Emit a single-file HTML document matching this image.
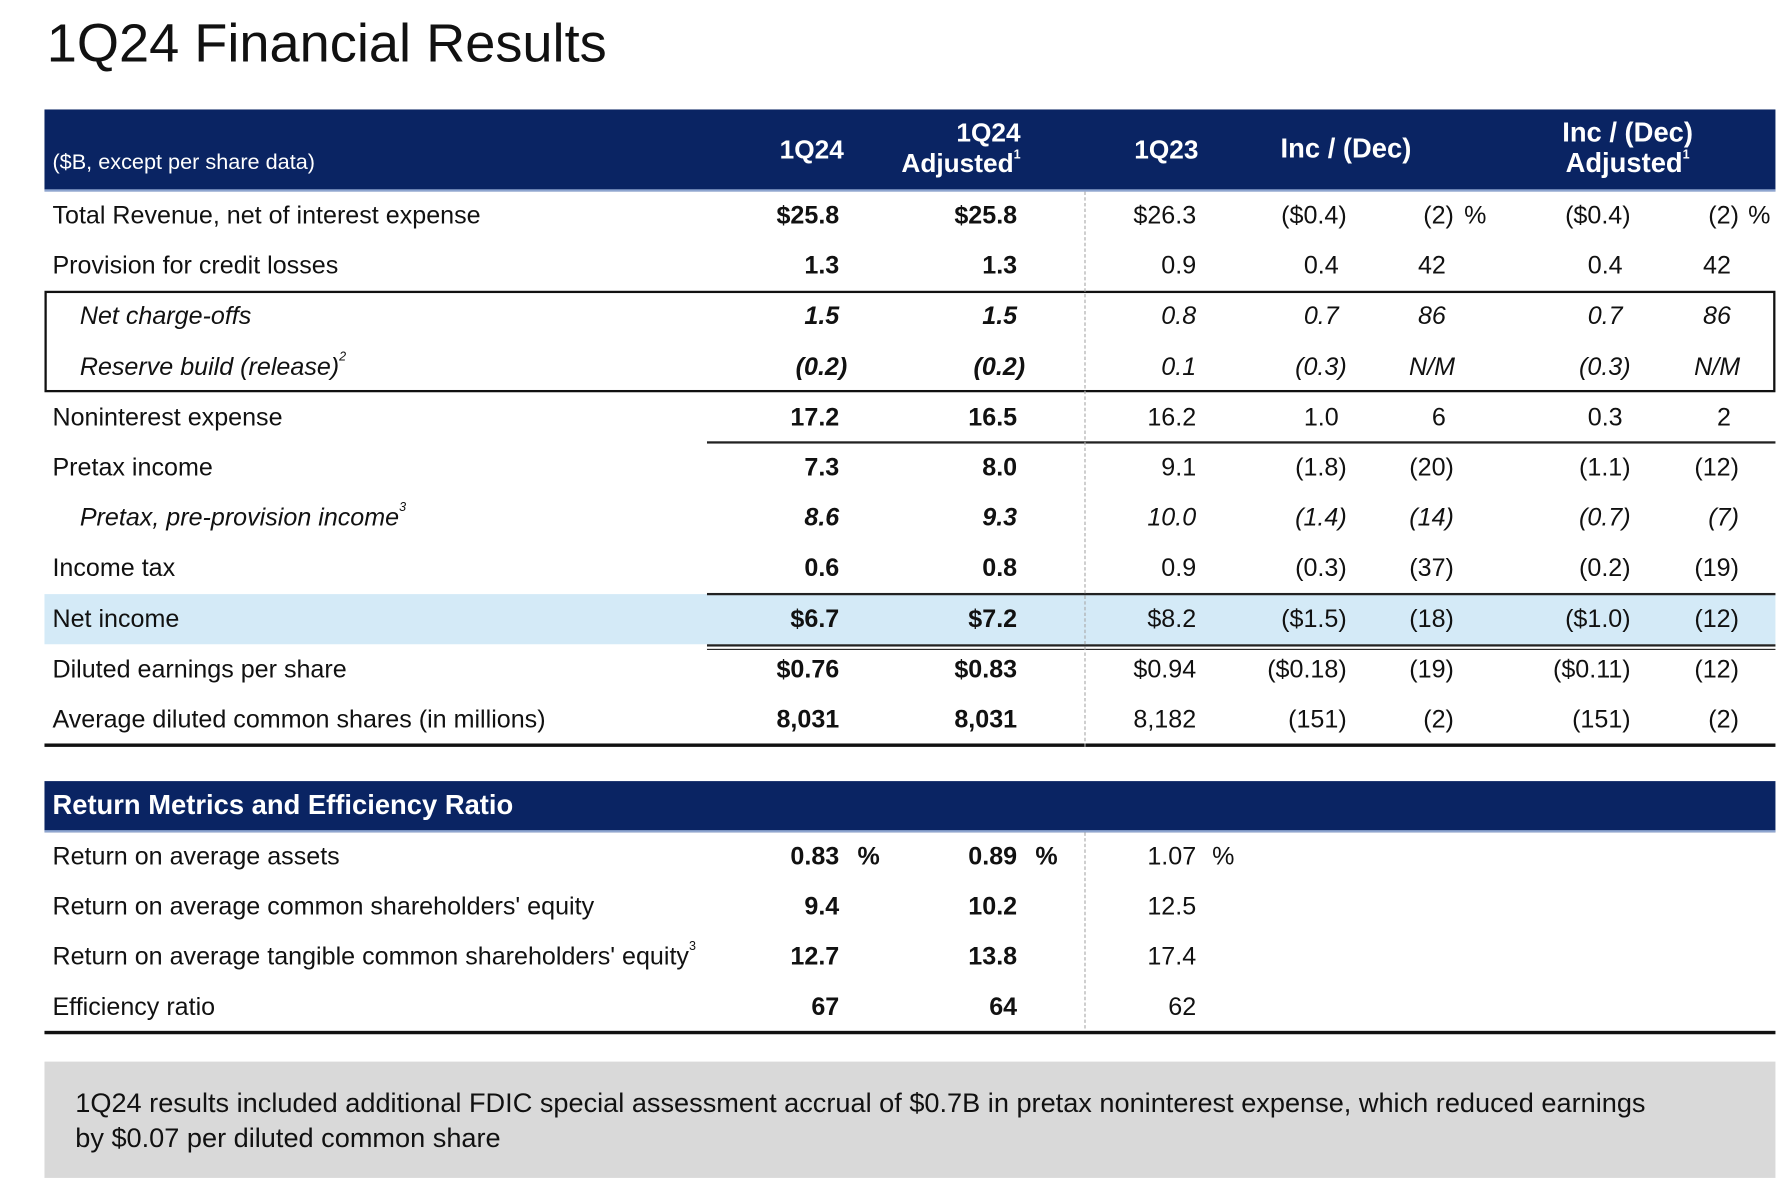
<!DOCTYPE html>
<html><head><meta charset="utf-8"><style>
html,body{margin:0;padding:0;background:#fff;}
body{width:1788px;height:1178px;overflow:hidden;position:relative;}
#wrap{position:absolute;left:0;top:0;width:1568px;height:1033px;transform:scale(1.1403);transform-origin:0 0;font-family:"Liberation Sans",sans-serif;color:#111;}
.t{position:absolute;white-space:nowrap;line-height:30px;height:30px;font-size:22px;}
.r{text-align:right;}
.b{font-weight:bold;}
.i{font-style:italic;}
.w{color:#fff;}
sup{font-size:11px;vertical-align:top;line-height:12px;}
.abs{position:absolute;}
</style></head><body>
<div id="wrap">
<div class="t" style="left:41px;top:11px;height:56px;line-height:56px;font-size:47.5px;">1Q24 Financial Results</div>
<div class="abs" style="left:39px;top:96px;width:1518px;height:72px;background:#0a2463;border-bottom:2px solid #8fa6d0;box-sizing:border-box;"></div>
<div class="t w" style="left:46px;top:128px;font-size:19px;">($B, except per share data)</div>
<div class="t w b r" style="right:828px;top:116px;font-size:23px;">1Q24</div>
<div class="t w b r" style="right:673px;top:103px;font-size:23px;line-height:27px;height:56px;">1Q24<br>Adjusted<sup>1</sup></div>
<div class="t w b r" style="right:517px;top:116px;font-size:23px;">1Q23</div>
<div class="t w b" style="left:1123px;top:116px;font-size:24px;">Inc / (Dec)</div>
<div class="t w b" style="left:1370px;top:103px;font-size:24px;line-height:27px;height:56px;text-align:center;">Inc / (Dec)<br>Adjusted<sup>1</sup></div>
<div class="abs" style="left:39px;top:521px;width:1518px;height:44px;background:#d4eaf7;"></div>
<div class="abs" style="left:39px;top:255px;width:1518px;height:89px;border:2px solid #111;box-sizing:border-box;"></div>
<div class="abs" style="left:620px;top:387px;width:937px;height:2px;background:#222;"></div>
<div class="abs" style="left:620px;top:520px;width:937px;height:2px;background:#222;"></div>
<div class="abs" style="left:620px;top:565px;width:937px;height:5px;border-top:2px solid #222;border-bottom:1.5px solid #222;box-sizing:border-box;"></div>
<div class="abs" style="left:39px;top:652px;width:1518px;height:3px;background:#111;"></div>
<div class="abs" style="left:951px;top:168px;width:0;height:487px;border-left:1.5px dashed #aaa;"></div>
<div class="abs" style="left:39px;top:685px;width:1518px;height:45px;background:#0a2463;border-bottom:2px solid #8fa6d0;box-sizing:border-box;"></div>
<div class="t w b" style="left:46px;top:692px;font-size:24px;">Return Metrics and Efficiency Ratio</div>
<div class="abs" style="left:951px;top:730px;width:0;height:172px;border-left:1.5px dashed #aaa;"></div>
<div class="abs" style="left:39px;top:904px;width:1518px;height:3px;background:#111;"></div>
<div class="abs" style="left:39px;top:931px;width:1518px;height:102px;background:#d9d9d9;"></div>
<div class="t" style="left:66px;top:952px;height:62px;line-height:31px;font-size:23.8px;">1Q24 results included additional FDIC special assessment accrual of $0.7B in pretax noninterest expense, which reduced earnings<br>by $0.07 per diluted common share</div>
</div>
<script>
const wrap = document.getElementById('wrap');
const colRight = [736, 892, 1049, 1174, 1268, 1423, 1518];
const rowLabels = ['Total Revenue, net of interest expense','Provision for credit losses','Net charge-offs','Reserve build (release)<sup>2</sup>','Noninterest expense','Pretax income','Pretax, pre-provision income<sup>3</sup>','Income tax','Net income','Diluted earnings per share','Average diluted common shares (in millions)'];
const rowNames = ['total-revenue','provision','net-charge-offs','reserve-build','noninterest-expense','pretax-income','pretax-pre-provision','income-tax','net-income','diluted-eps','avg-diluted-shares'];
const rowItalic = [0,0,1,1,0,0,1,0,0,0,0];
const rowY = [189,233,277,322,366,410,454,498,543,587,631];
const rowValues = [
 ['$25.8','$25.8','$26.3','($0.4)','(2)','($0.4)','(2)'],
 ['1.3','1.3','0.9','0.4','42','0.4','42'],
 ['1.5','1.5','0.8','0.7','86','0.7','86'],
 ['(0.2)','(0.2)','0.1','(0.3)','N/M','(0.3)','N/M'],
 ['17.2','16.5','16.2','1.0','6','0.3','2'],
 ['7.3','8.0','9.1','(1.8)','(20)','(1.1)','(12)'],
 ['8.6','9.3','10.0','(1.4)','(14)','(0.7)','(7)'],
 ['0.6','0.8','0.9','(0.3)','(37)','(0.2)','(19)'],
 ['$6.7','$7.2','$8.2','($1.5)','(18)','($1.0)','(12)'],
 ['$0.76','$0.83','$0.94','($0.18)','(19)','($0.11)','(12)'],
 ['8,031','8,031','8,182','(151)','(2)','(151)','(2)']
];
const metricLabels = ['Return on average assets','Return on average common shareholders\' equity','Return on average tangible common shareholders\' equity<sup>3</sup>','Efficiency ratio'];
const metricNames = ['roaa','roce','rotce','efficiency-ratio'];
const metricY = [751,795,839,883];
const metricValues = [['0.83','0.89','1.07'],['9.4','10.2','12.5'],['12.7','13.8','17.4'],['67','64','62']];

function txt(html, cls, left, right, cy) {
  const d = document.createElement('div');
  d.className = 't ' + cls;
  d.innerHTML = html;
  if (right !== null) { d.style.right = (1568 - right) + 'px'; d.classList.add('r'); }
  else d.style.left = left + 'px';
  d.style.top = (cy - 15) + 'px';
  wrap.appendChild(d);
  return d;
}
function valRight(v, c) {
  let r = colRight[c];
  if (v.endsWith(')')) r += 7;
  if (v === 'N/M') r += 8;
  return r;
}
rowLabels.forEach((lab, i) => {
  const l = txt(lab, rowItalic[i] ? 'i' : '', rowItalic[i] ? 70 : 46, null, rowY[i]);
  
  
  rowValues[i].forEach((v, c) => {
    let cls = (c < 2 ? 'b ' : '') + (rowItalic[i] ? 'i' : '');
    const e = txt(v, cls, 0, valRight(v, c), rowY[i]);
    
    
  });
});
[1284, 1533].forEach((x) => {
  const p = txt('%', '', x, null, rowY[0]);
  
  
});
metricLabels.forEach((lab, i) => {
  const l = txt(lab, '', 46, null, metricY[i]);
  
  
  metricValues[i].forEach((v, c) => {
    const e = txt(v, c < 2 ? 'b' : '', 0, colRight[c], metricY[i]);
    
    
  });
});
[752, 908, 1063].forEach((x, c) => {
  const p = txt('%', c < 2 ? 'b' : '', x, null, metricY[0]);
  
  
});
</script>
</body></html>
